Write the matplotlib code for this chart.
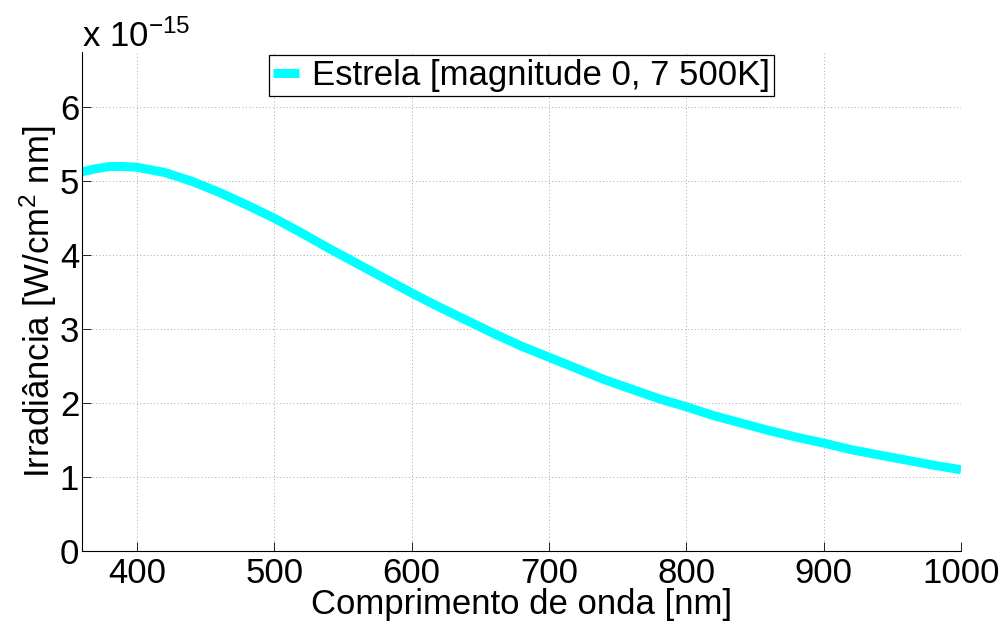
import matplotlib
matplotlib.use('Agg')
from matplotlib import pyplot as plt

plt.rcParams['font.family'] = ['Liberation Sans', 'DejaVu Sans']
plt.rcParams['mathtext.fontset'] = 'custom'
plt.rcParams['mathtext.rm'] = 'Liberation Sans'
plt.rcParams['mathtext.it'] = 'Liberation Sans'

# comprimento de onda [nm]
wavelength = [360, 370, 380, 390, 400, 420, 440, 460, 480, 500, 520, 540,
              560, 580, 600, 620, 640, 660, 680, 700, 720, 740, 760, 780,
              800, 820, 840, 860, 880, 900, 920, 940, 960, 980, 1000]
# irradiancia [x 1e-15 W/cm^2 nm]
irradiance = [5.13, 5.17, 5.20, 5.20, 5.19, 5.12, 5.00, 4.85, 4.68, 4.50,
              4.30, 4.09, 3.89, 3.69, 3.49, 3.30, 3.12, 2.94, 2.77, 2.62,
              2.47, 2.32, 2.19, 2.06, 1.95, 1.83, 1.73, 1.63, 1.54, 1.46,
              1.37, 1.30, 1.23, 1.16, 1.10]

xticks = [400, 500, 600, 700, 800, 900, 1000]
yticks = [0, 1, 2, 3, 4, 5, 6]

fig = plt.figure(figsize=(10.04, 6.27), dpi=100)
ax = fig.add_axes([0.0817, 0.1212, 0.8755, 0.796])

ax.plot(wavelength, irradiance, color=(0, 1, 1), linewidth=6.5,
        solid_capstyle='butt', solid_joinstyle='round',
        label='Estrela [magnitude 0, 7 500K]')

ax.set_xlim(360, 1000)
ax.set_ylim(0, 6.75)
ax.set_xticks(xticks)
ax.set_yticks(yticks)
ax.tick_params(direction='in', labelsize=25, length=6.5, width=0.6,
               top=False, right=False)
ax.tick_params(axis='x', pad=4)
ax.tick_params(axis='y', pad=2)
ax.spines['top'].set_visible(False)
ax.spines['right'].set_visible(False)
ax.spines['left'].set_linewidth(0.8)
ax.spines['bottom'].set_linewidth(0.8)
ax.grid(True, linestyle=(0, (1, 2.5)), color='#a8a8a8', linewidth=0.7)

ax.set_xlabel('Comprimento de onda [nm]', fontsize=25, va='top')
ax.xaxis.set_label_coords(0.5, -0.075)
ax.set_ylabel('Irradiância [W/cm$^2$ nm]', fontsize=25)
ax.yaxis.set_label_coords(-0.026, 0.5)

fig.text(0.082, 0.925, r'x 10$^{-15}$', fontsize=25, ha='left', va='baseline')

leg = ax.legend(loc='upper center', bbox_to_anchor=(0.5, 0.994),
                fontsize=25, frameon=True, fancybox=False, handlelength=0.75,
                handletextpad=0.35, borderpad=0.12, borderaxespad=0.0)
leg.get_frame().set_edgecolor('black')
leg.get_frame().set_linewidth(0.9)
leg.get_frame().set_alpha(1)

fig.savefig('out.png', dpi=100)
